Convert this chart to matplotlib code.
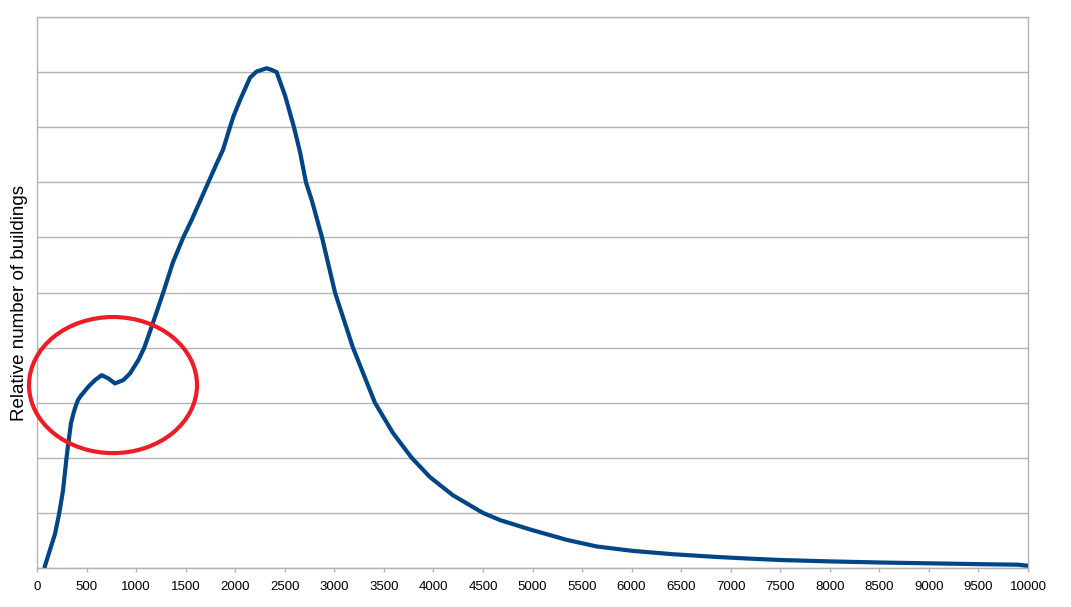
import matplotlib.pyplot as plt
from matplotlib.patches import Ellipse

# Curve (y in units of grid lines, 0..10)
x_vals = [74, 131, 182, 225, 262, 298, 316, 343, 370, 393, 414, 440, 518, 585, 653, 720,
          787, 871, 938, 1022, 1083, 1157, 1274, 1372, 1476, 1564, 1729, 1813, 1877, 1947,
          1981, 2048, 2150, 2216, 2317, 2368, 2418, 2502, 2593, 2654, 2714, 2775, 2876,
          3007, 3188, 3410, 3592, 3781, 3965, 4197, 4500, 4672, 4974, 5347, 5650,
          6014, 6417, 6861, 7194, 7500, 8000, 8500, 9000, 9500, 9900, 10000]
y_vals = [0.0, 0.33, 0.62, 1.0, 1.4, 2.0, 2.26, 2.63, 2.82, 2.95, 3.05, 3.12, 3.29, 3.41,
          3.50, 3.44, 3.35, 3.41, 3.53, 3.77, 4.0, 4.38, 5.0, 5.55, 6.0, 6.33, 7.0, 7.34,
          7.59, 8.0, 8.19, 8.49, 8.9, 9.01, 9.07, 9.04, 9.0, 8.58, 8.0, 7.55, 7.0,
          6.66, 6.0, 5.0, 4.0, 3.0, 2.45, 2.0, 1.65, 1.32, 1.0, 0.87, 0.70,
          0.51, 0.39, 0.31, 0.25, 0.20, 0.17, 0.145, 0.12, 0.10, 0.085, 0.07, 0.06, 0.04]
x_ticks = list(range(0, 10001, 500))

grid_col = "#b3b3b3"

fig = plt.figure(figsize=(10.71, 6.07), dpi=100)
ax = fig.add_axes([37 / 1071, 1 - 568 / 607, (1028 - 37) / 1071, (568 - 17) / 607])

ax.plot(x_vals, y_vals, color="#004586", linewidth=3, solid_capstyle="butt", zorder=3)

# red highlight ellipse around the bump
ell = Ellipse((767, 3.32), 1695, 2.47, fill=False, edgecolor="#ee1c25",
              linewidth=3, clip_on=False, zorder=4)
ax.add_patch(ell)

ax.set_xlim(0, 10000)
ax.set_ylim(0, 10)
ax.set_xticks(x_ticks)
ax.set_xticklabels([str(t) for t in x_ticks], fontsize=9.5, family="Liberation Sans")
ax.set_yticks(range(0, 11))
ax.set_yticklabels([])
ax.tick_params(axis="y", length=0)
ax.tick_params(axis="x", length=3, color=grid_col, width=1, pad=6)
ax.grid(axis="y", color=grid_col, linewidth=1)
for s in ax.spines.values():
    s.set_color(grid_col)
    s.set_linewidth(1)

ax.set_ylabel("Relative number of buildings", fontsize=13.5, family="Liberation Sans")
ax.yaxis.set_label_coords(-0.009, 0.481)

fig.savefig("out.png", dpi=100)
